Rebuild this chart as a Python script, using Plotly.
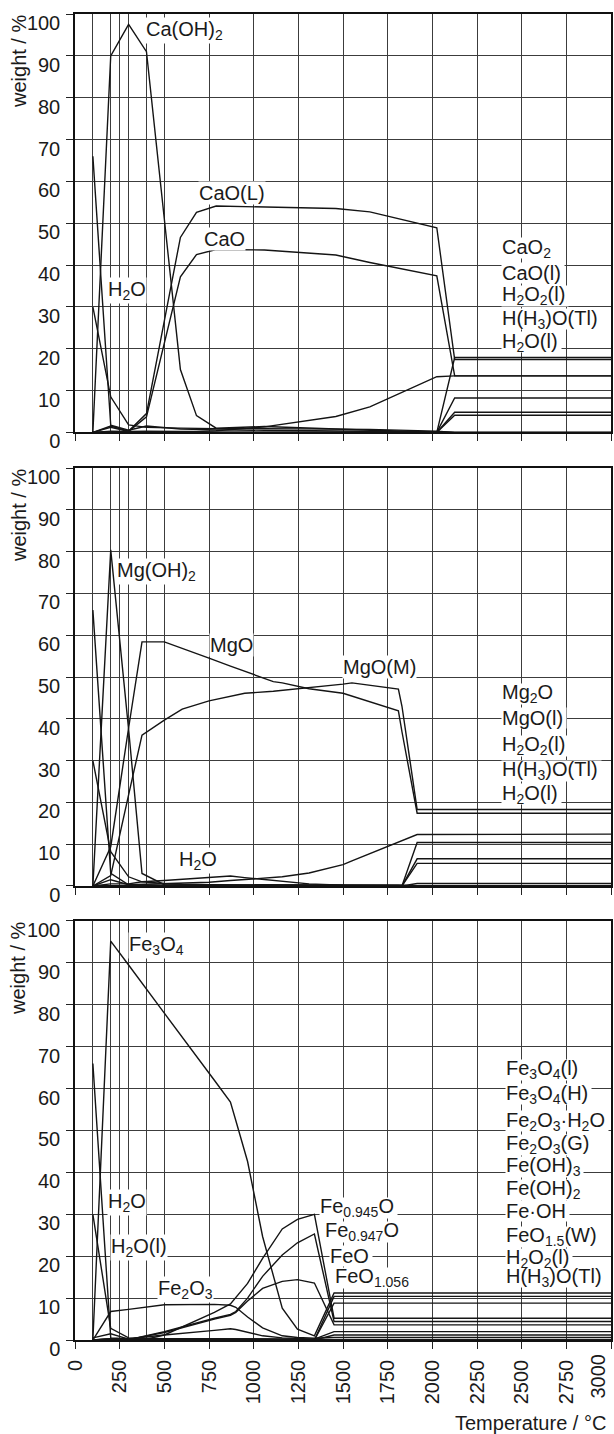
import re
import plotly.graph_objects as go

# ---------------- data ----------------
x_ticks = [0, 250, 500, 750, 1000, 1250, 1500, 1750, 2000, 2250, 2500, 2750, 3000]
x_extra_grid = [100, 200, 300, 400]
y_ticks = [0, 10, 20, 30, 40, 50, 60, 70, 80, 90, 100]

# Panel 1: Ca system
ca_T = [100, 200, 300, 400, 590, 680, 790, 1060, 1460, 1650, 2025, 2125, 3000]
ca_CaOH2 = [0, 90, 97.5, 91, 15, 4, 1.0, 1.4, 0.8, 0.5, 0.1, 0, 0]
ca_CaO_L = [0, 1.5, 0.3, 4.5, 46.6, 52.6, 54.1, 53.9, 53.5, 52.7, 48.9, 17.4, 17.4]
ca_CaO = [0, 1.2, 0.2, 3.7, 37.2, 42.5, 43.7, 43.6, 42.4, 40.6, 37.4, 13.5, 13.5]
ca_H2O_a = [66, 1.7, 0.5, 1.5, 0.8, 0.7, 0.6, 0.5, 0.4, 0.3, 0.1, 0, 0]
ca_H2O_b = [30, 8.5, 1.8, 1.2, 1.0, 0.9, 0.9, 0.9, 0.8, 0.7, 0.3, 0, 0]
ca_H2O_g = [0, 0.3, 0.2, 0.3, 0.2, 0.2, 0.4, 1.3, 3.8, 6.1, 13.3, 13.5, 13.5]
ca_CaO2 = [0, 0, 0, 0, 0, 0, 0, 0, 0, 0, 0, 17.9, 17.9]
ca_CaO_l = [0, 0, 0, 0, 0, 0, 0, 0, 0, 0, 0, 8.2, 8.2]
ca_H2O2_l = [0, 0, 0, 0, 0, 0, 0, 0, 0, 0, 0, 4.8, 4.8]
ca_HH3O = [0, 0, 0, 0, 0, 0, 0, 0, 0, 0, 0, 4.1, 4.1]
ca_series = [ca_CaOH2, ca_CaO_L, ca_CaO, ca_H2O_a, ca_H2O_b, ca_H2O_g,
             ca_CaO2, ca_CaO_l, ca_H2O2_l, ca_HH3O]

# Panel 2: Mg system
mg_T = [100, 200, 300, 375, 500, 600, 750, 870, 950, 1110, 1160, 1310, 1500, 1550, 1810, 1830, 1915, 3000]
mg_MgOH2 = [0, 80.4, 37.5, 3.0, 0.3, 0.2, 0.2, 0.2, 0.2, 0.2, 0.2, 0.2, 0.2, 0.2, 0.1, 0.1, 0, 0]
mg_MgO = [0, 9.4, 37.8, 58.4, 58.4, 56.9, 54.5, 52.6, 51.4, 48.9, 48.6, 47.2, 46.1, 45.4, 41.9, 36.9, 17.4, 17.4]
mg_MgO_M = [0, 2.5, 21.8, 36.1, 39.7, 42.3, 44.3, 45.4, 46.1, 46.6, 46.8, 47.4, 48.3, 48.6, 47.1, 43.0, 18.3, 18.3]
mg_H2O_a = [66, 3.0, 0.3, 0.2, 0.2, 0.2, 0.2, 0.2, 0.2, 0.2, 0.2, 0.1, 0.1, 0.1, 0.1, 0.1, 0, 0]
mg_H2O_b = [30, 8.2, 2.2, 1.0, 0.6, 0.4, 0.3, 0.3, 0.3, 0.3, 0.3, 0.3, 0.3, 0.3, 0.2, 0.1, 0, 0]
mg_H2O_g = [0, 1.5, 0.3, 0.4, 0.4, 0.6, 0.9, 1.3, 1.5, 2.0, 2.2, 3.1, 5.1, 6.0, 10.5, 10.9, 12.3, 12.4]
mg_bump = [0, 0.5, 0.5, 1.0, 1.3, 1.6, 2.1, 2.4, 2.0, 1.4, 1.2, 0.5, 0.2, 0.2, 0.1, 0.1, 0, 0]
mg_Mg2O = [0, 0, 0, 0, 0, 0, 0, 0, 0, 0, 0, 0, 0, 0, 0, 0, 10.4, 10.4]
mg_MgO_l = [0, 0, 0, 0, 0, 0, 0, 0, 0, 0, 0, 0, 0, 0, 0, 0, 6.5, 6.5]
mg_H2O2_l = [0, 0, 0, 0, 0, 0, 0, 0, 0, 0, 0, 0, 0, 0, 0, 0, 5.4, 5.4]
mg_HH3O = [0, 0, 0, 0, 0, 0, 0, 0, 0, 0, 0, 0, 0, 0, 0, 0, 0.6, 0.6]
mg_series = [mg_MgOH2, mg_MgO, mg_MgO_M, mg_H2O_a, mg_H2O_b, mg_H2O_g, mg_bump,
             mg_Mg2O, mg_MgO_l, mg_H2O2_l, mg_HH3O]

# Panel 3: Fe system
fe_T = [100, 200, 300, 400, 500, 780, 870, 900, 966, 1050, 1160, 1245, 1340, 1450, 3000]
fe_Fe3O4 = [0, 95.2, 89.5, 83.7, 78.0, 62.0, 56.8, 52.4, 42.6, 24.7, 7.6, 2.6, 1.0, 11.2, 11.2]
fe_Fe0945O = [0, 0.3, 0.1, 0.2, 1.2, 6.6, 8.6, 10.2, 13.5, 19.5, 26.5, 28.8, 30.0, 5.2, 5.2]
fe_Fe0947O = [0, 0.2, 0.1, 1.1, 2.0, 5.2, 6.1, 6.8, 10.0, 15.2, 20.3, 23.2, 25.3, 4.4, 4.4]
fe_FeO = [0, 0.2, 0.1, 1.0, 1.8, 5.0, 5.9, 6.6, 9.3, 12.3, 14.0, 14.4, 13.6, 3.6, 3.6]
fe_Fe2O3 = [0, 6.8, 7.3, 7.8, 8.4, 8.5, 8.3, 7.8, 5.5, 2.9, 1.0, 0.6, 0.4, 0.6, 0.6]
fe_H2O_a = [66, 0.5, 0.3, 0.3, 0.2, 0.2, 0.2, 0.2, 0.2, 0.2, 0.2, 0.2, 0.1, 0, 0]
fe_H2O_b = [30, 2.8, 0.5, 0.4, 0.3, 0.3, 0.3, 0.3, 0.3, 0.3, 0.2, 0.2, 0.1, 0, 0]
fe_H2O_l = [0.5, 1.5, 0.2, 0.2, 0.2, 0.2, 0.2, 0.2, 0.2, 0.2, 0.2, 0.2, 0.1, 0, 0]
fe_bump = [0, 0.3, 0.3, 0.8, 1.2, 2.3, 2.7, 2.5, 1.8, 1.0, 0.5, 0.3, 0.2, 2.0, 2.0]
fe_FeOH = [0, 0, 0, 0, 0, 0, 0, 0, 0, 0, 0, 0, 0, 10.4, 10.4]
fe_FeO15 = [0, 0, 0, 0, 0, 0, 0, 0, 0, 0, 0, 0, 0, 8.8, 8.8]
fe_H2O2_l = [0, 0, 0, 0, 0, 0, 0, 0, 0, 0, 0, 0, 0, 1.2, 1.2]
fe_series = [fe_Fe3O4, fe_Fe0945O, fe_Fe0947O, fe_FeO, fe_Fe2O3, fe_H2O_a, fe_H2O_b,
             fe_H2O_l, fe_bump, fe_FeOH, fe_FeO15, fe_H2O2_l]

# species labels: (text, T, weight, stacked)
ca_labels = [("Ca(OH)<sub>2</sub>", 390, 96, False), ("CaO(L)", 690, 57.2, False),
             ("CaO", 719, 46.1, False), ("H<sub>2</sub>O", 180, 34, False),
             ("CaO<sub>2</sub>", 2387, 44, True), ("CaO(l)", 2387, 38.2, True),
             ("H<sub>2</sub>O<sub>2</sub>(l)", 2387, 32.6, True),
             ("H(H<sub>3</sub>)O(Tl)", 2387, 27.0, True), ("H<sub>2</sub>O(l)", 2387, 21.5, True)]
mg_labels = [("Mg(OH)<sub>2</sub>", 232, 75.2, False), ("MgO", 752, 57.7, False),
             ("MgO(M)", 1492, 52.5, False), ("H<sub>2</sub>O", 576, 6.2, False),
             ("Mg<sub>2</sub>O", 2387, 46.0, True), ("MgO(l)", 2387, 40.1, True),
             ("H<sub>2</sub>O<sub>2</sub>(l)", 2387, 33.5, True),
             ("H(H<sub>3</sub>)O(Tl)", 2387, 27.6, True), ("H<sub>2</sub>O(l)", 2387, 22.0, True)]
fe_labels = [("Fe<sub>3</sub>O<sub>4</sub>", 297, 94.2, False), ("H<sub>2</sub>O", 180, 32.8, False),
             ("H<sub>2</sub>O(l)", 195, 22, False), ("Fe<sub>2</sub>O<sub>3</sub>", 459, 12, False),
             ("Fe<sub>0.945</sub>O", 1365, 31.6, True), ("Fe<sub>0.947</sub>O", 1393, 25.8, True),
             ("FeO", 1421, 20, True), ("FeO<sub>1.056</sub>", 1449, 14.8, True),
             ("Fe<sub>3</sub>O<sub>4</sub>(l)", 2406, 64.5, True), ("Fe<sub>3</sub>O<sub>4</sub>(H)", 2406, 58.6, True),
             ("Fe<sub>2</sub>O<sub>3</sub>·H<sub>2</sub>O", 2406, 52.2, True),
             ("Fe<sub>2</sub>O<sub>3</sub>(G)", 2406, 46.6, True),
             ("Fe(OH)<sub>3</sub>", 2406, 41.4, True), ("Fe(OH)<sub>2</sub>", 2406, 35.8, True),
             ("Fe·OH", 2406, 30.8, True), ("FeO<sub>1.5</sub>(W)", 2406, 24.6, True),
             ("H<sub>2</sub>O<sub>2</sub>(l)", 2406, 19.4, True), ("H(H<sub>3</sub>)O(Tl)", 2406, 15.0, True)]

# ---------------- figure ----------------
FONT = "Liberation Sans, Arial, sans-serif"
FS = 20
TXT = "#1a1a1a"
LINE = "#141414"
GRID = "#3c3c3c"

# approximate Arial/Liberation Sans advance widths (em) for sizing label backgrounds
CW = {"C": .722, "F": .611, "H": .722, "M": .833, "O": .778, "T": .611, "W": .944, "G": .778,
      "L": .556, "a": .556, "e": .556, "g": .556, "l": .222, "(": .333, ")": .333, ".": .278,
      "·": .333}

def text_width(label, size):
    w, sub = 0.0, False
    for part in re.split(r"(<sub>|</sub>)", label):
        if part == "<sub>":
            sub = True
        elif part == "</sub>":
            sub = False
        else:
            w += sum(CW.get(ch, .556) for ch in part) * (0.7 if sub else 1.0)
    return w * size

fig = go.Figure()
panels = [(ca_T, ca_series, ca_labels, "x", "y"),
          (mg_T, mg_series, mg_labels, "x2", "y2"),
          (fe_T, fe_series, fe_labels, "x3", "y3")]

first, texts = [], []
for T, series, labels, xa, ya in panels:
    for s in series:
        fig.add_trace(go.Scatter(x=T, y=s, mode="lines", xaxis=xa, yaxis=ya,
                                 line=dict(color=LINE, width=1.4), showlegend=False,
                                 hoverinfo="skip"))
    for text, tx, ty, stacked in labels:
        common = dict(x=tx, y=ty, xref=xa, yref=ya, xanchor="left", yanchor="middle",
                      showarrow=False, borderpad=0)
        if stacked:
            # plain white box under the label, then the text above every box
            first.append(dict(common, text="\u00a0", bgcolor="white",
                              width=round(text_width(text, FS)) + 3, height=20,
                              font=dict(family=FONT, size=FS)))
            texts.append(dict(common, text=text, font=dict(family=FONT, size=FS, color=TXT)))
        else:
            first.append(dict(common, text=text, bgcolor="white",
                              font=dict(family=FONT, size=FS, color=TXT)))
    texts.append(dict(text="weight / %", textangle=-90, xref="paper",
                      x=-0.1054, xanchor="center",
                      yref=ya + " domain", y=1, yanchor="top", yshift=1,
                      showarrow=False, font=dict(family=FONT, size=FS, color=TXT)))

texts.append(dict(text="Temperature / °C", xref="paper", x=0.9944, xanchor="right",
                  yref="paper", y=-0.0626, yanchor="middle", showarrow=False,
                  font=dict(family=FONT, size=FS, color=TXT)))
# last x tick label, kept inside the figure like the original
texts.append(dict(text=str(x_ticks[-1]), textangle=-90, xref="x3", x=x_ticks[-1],
                  xanchor="right", yref="y3", y=0, yanchor="top", yshift=-12,
                  showarrow=False, font=dict(family=FONT, size=FS, color=TXT)))

x_tick_text = [str(v) for v in x_ticks[:-1]] + [""]
domains = [[0.6845, 1.0], [0.3424, 0.6576], [0.0, 0.3160]]

def xaxis_cfg(anchor, labels):
    return dict(anchor=anchor, domain=[0, 1], range=[0, 3000],
                tickmode="array", tickvals=x_ticks, ticktext=x_tick_text,
                ticks="outside", ticklen=7,
                tickcolor="#222", showticklabels=labels, tickangle=-90,
                tickfont=dict(family=FONT, size=FS, color=TXT),
                showgrid=True, gridcolor=GRID, gridwidth=1,
                minor=dict(tickmode="array", tickvals=x_extra_grid, showgrid=True,
                           gridcolor=GRID, gridwidth=1, ticks=""),
                showline=True, linecolor="#111", linewidth=1.5, mirror=True,
                zeroline=False, ticklabelstandoff=3)

def yaxis_cfg(anchor, dom):
    return dict(anchor=anchor, domain=dom, range=[0, 100],
                tickmode="array", tickvals=y_ticks, ticks="outside", ticklen=7,
                tickcolor="#222", tickfont=dict(family=FONT, size=FS, color=TXT),
                showgrid=True, gridcolor=GRID, gridwidth=1,
                showline=True, linecolor="#111", linewidth=1.5, mirror=True,
                zeroline=False, ticklabelshift=9, ticklabelstandoff=2)

fig.update_layout(
    width=614, height=1434,
    margin=dict(l=75, r=1, t=14, b=94),
    paper_bgcolor="white", plot_bgcolor="white",
    xaxis=xaxis_cfg("y", False),
    xaxis2=dict(xaxis_cfg("y2", False), matches="x"),
    xaxis3=dict(xaxis_cfg("y3", True), matches="x"),
    yaxis=yaxis_cfg("x", domains[0]),
    yaxis2=yaxis_cfg("x2", domains[1]),
    yaxis3=yaxis_cfg("x3", domains[2]),
    annotations=first + texts,
    font=dict(family=FONT, color=TXT),
)

fig.write_html("out.html", config={"displayModeBar": False},
               post_script="document.body.style.margin='0';document.body.style.overflow='hidden';")
